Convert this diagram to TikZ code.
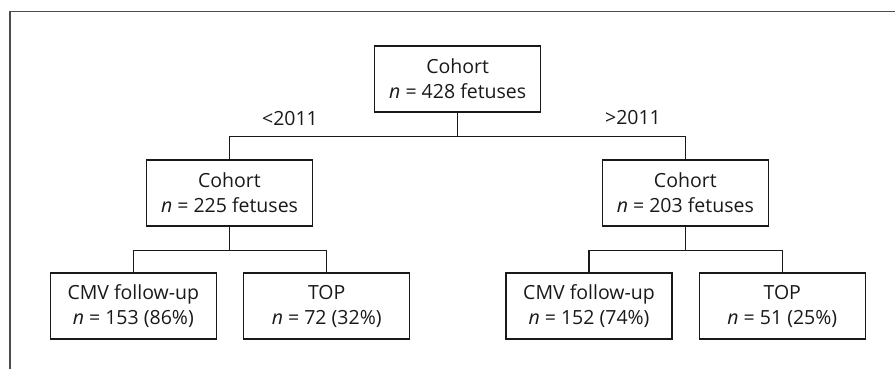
\documentclass[tikz,border=0pt]{standalone}
\usepackage{fontspec}
\setmainfont{Open Sans}
\begin{document}
\begin{tikzpicture}[x=1pt,y=-1pt,
  box/.style={draw=black!90,line width=1.4pt,minimum width=166pt,minimum height=66pt,inner sep=0pt,align=center,text=black!90,font=\fontsize{19.5}{25}\selectfont},
  conn/.style={draw=black!90,line width=1.4pt},
  lbl/.style={text=black!90,font=\fontsize{19.5}{23}\selectfont,inner sep=0pt}]
\useasboundingbox (0,0) rectangle (895,369);
\coordinate (fa) at (10,369);
\coordinate (fb) at (10,11.5);
\coordinate (fc) at (895,11.5);
\draw[draw=black!70,line width=1.2pt] (fa) -- (fb) -- (fc);
\node[box] (top) at (457.7,79) {Cohort\\\textit{n} = 428 fetuses};
\node[box] (midL) at (229.5,193) {Cohort\\\textit{n} = 225 fetuses};
\node[box] (midR) at (685.3,193) {Cohort\\\textit{n} = 203 fetuses};
\node[box] (bLL) at (133.3,306) {CMV follow-up\\\textit{n} = 153 (86\%)};
\node[box] (bLR) at (326.7,306) {TOP\\\textit{n} = 72 (32\%)};
\node[box] (bRL) at (589,306) {CMV follow-up\\\textit{n} = 152 (74\%)};
\node[box] (bRR) at (782.3,306) {TOP\\\textit{n} = 51 (25\%)};
\coordinate (j1) at (0,136.5);
\coordinate (j2) at (0,250.5);
\draw[conn] (top.south) -- (top.south |- j1);
\draw[conn] (midL.north) -- (midL.north |- j1) -- (midR.north |- j1) -- (midR.north);
\draw[conn] (midL.south) -- (midL.south |- j2);
\draw[conn] (bLL.north) -- (bLL.north |- j2) -- (bLR.north |- j2) -- (bLR.north);
\draw[conn] (midR.south) -- (midR.south |- j2);
\draw[conn] (bRL.north) -- (bRL.north |- j2) -- (bRR.north |- j2) -- (bRR.north);
\node[lbl] (lt) at (290,119) {<2011};
\node[lbl] (gt) at (633,118) {>2011};
\end{tikzpicture}
\end{document}
